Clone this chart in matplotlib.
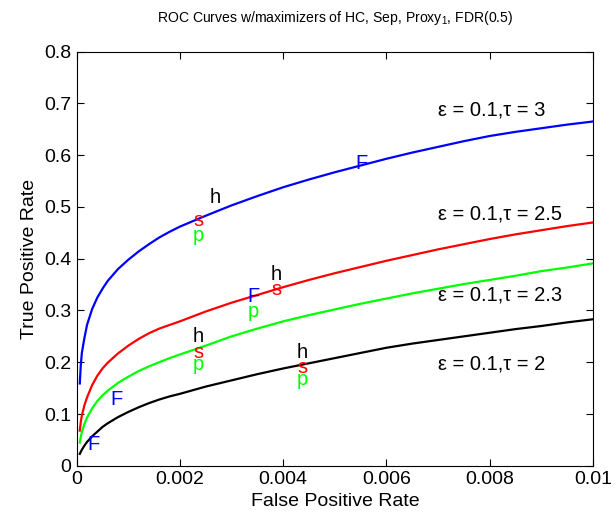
import matplotlib
matplotlib.use("Agg")
import matplotlib.pyplot as plt

plt.rcParams['font.family'] = ['Liberation Sans', 'DejaVu Sans']
plt.rcParams['mathtext.fontset'] = 'custom'
plt.rcParams['mathtext.rm'] = 'Liberation Sans'
plt.rcParams['mathtext.it'] = 'Liberation Sans:italic'

# ROC curves (FPR, TPR)
fpr_t3 = [0.00006, 0.00008, 0.0001, 0.00015, 0.0002, 0.0003, 0.0004, 0.0005, 0.0006, 0.0008,
          0.001, 0.0012, 0.0014, 0.0016, 0.0018, 0.002, 0.0025, 0.003, 0.0035, 0.004,
          0.0045, 0.005, 0.0055, 0.006, 0.0065, 0.007, 0.0075, 0.008, 0.0085, 0.009, 0.0095, 0.01]
tpr_t3 = [0.159, 0.195, 0.218, 0.247, 0.272, 0.303, 0.325, 0.342, 0.357, 0.380,
          0.398, 0.414, 0.428, 0.441, 0.452, 0.462, 0.483, 0.503, 0.521, 0.538,
          0.553, 0.567, 0.580, 0.593, 0.605, 0.616, 0.627, 0.637, 0.645, 0.652, 0.659, 0.665]

fpr_t25 = [0.00006, 0.00008, 0.0001, 0.00015, 0.0002, 0.0003, 0.0004, 0.0005, 0.0006, 0.0008,
           0.001, 0.0012, 0.0014, 0.0016, 0.0018, 0.002, 0.0025, 0.003, 0.0035, 0.004,
           0.0045, 0.005, 0.0055, 0.006, 0.0065, 0.007, 0.0075, 0.008, 0.0085, 0.009, 0.0095, 0.01]
tpr_t25 = [0.068, 0.085, 0.097, 0.117, 0.132, 0.156, 0.174, 0.188, 0.199, 0.217,
           0.232, 0.245, 0.256, 0.265, 0.272, 0.279, 0.298, 0.315, 0.330, 0.345,
           0.359, 0.372, 0.384, 0.396, 0.407, 0.418, 0.428, 0.438, 0.447, 0.455, 0.463, 0.47]

fpr_t23 = [0.00006, 0.00008, 0.0001, 0.00015, 0.0002, 0.0003, 0.0004, 0.0005, 0.0006, 0.0008,
           0.001, 0.0012, 0.0014, 0.0016, 0.0018, 0.002, 0.0025, 0.003, 0.0035, 0.004,
           0.0045, 0.005, 0.0055, 0.006, 0.0065, 0.007, 0.0075, 0.008, 0.0085, 0.009, 0.0095, 0.01]
tpr_t23 = [0.045, 0.056, 0.065, 0.081, 0.093, 0.111, 0.125, 0.136, 0.145, 0.160,
           0.172, 0.183, 0.192, 0.200, 0.208, 0.215, 0.232, 0.250, 0.265, 0.279,
           0.291, 0.302, 0.313, 0.323, 0.333, 0.342, 0.351, 0.359, 0.367, 0.376, 0.383, 0.391]

fpr_t2 = [0.00006, 0.0001, 0.00015, 0.0002, 0.0003, 0.0004, 0.0005, 0.0006, 0.0008,
          0.001, 0.0012, 0.0014, 0.0016, 0.0018, 0.002, 0.0025, 0.003, 0.0035, 0.004,
          0.0045, 0.005, 0.0055, 0.006, 0.0065, 0.007, 0.0075, 0.008, 0.0085, 0.009, 0.0095, 0.01]
tpr_t2 = [0.023, 0.031, 0.039, 0.046, 0.057, 0.066, 0.075, 0.082, 0.094,
          0.104, 0.113, 0.121, 0.128, 0.134, 0.139, 0.153, 0.165, 0.177, 0.188,
          0.198, 0.208, 0.218, 0.228, 0.236, 0.243, 0.250, 0.257, 0.264, 0.270, 0.277, 0.283]

curve_labels = ['\u03b5 = 0.1,\u03c4 = 3', '\u03b5 = 0.1,\u03c4 = 2.5',
                '\u03b5 = 0.1,\u03c4 = 2.3', '\u03b5 = 0.1,\u03c4 = 2']
label_x = [0.0070, 0.0070, 0.0070, 0.0070]
label_y = [0.6875, 0.4856, 0.329, 0.1957]

# maximizer markers (letter, fpr, tpr-baseline)
mark_letters = ['h', 's', 'p', 'F',
                'h', 's', 'p', 'F',
                'h', 's', 'p', 'F',
                'h', 's', 'p', 'F']
mark_x = [0.00268, 0.00235, 0.00235, 0.00552,
          0.003872, 0.003872, 0.00342, 0.003433,
          0.002354, 0.002354, 0.002354, 0.000774,
          0.004375, 0.004375, 0.004375, 0.000335]
mark_y = [0.507, 0.4634, 0.435, 0.573,
          0.359, 0.330, 0.288, 0.317,
          0.2398, 0.2077, 0.185, 0.1175,
          0.2077, 0.1787, 0.156, 0.0305]
letter_colors = {'h': 'black', 's': 'red', 'p': '#00ff00', 'F': 'blue'}

xticks = [0, 0.002, 0.004, 0.006, 0.008, 0.01]
xticklabels = ['0', '0.002', '0.004', '0.006', '0.008', '0.01']
yticks = [0, 0.1, 0.2, 0.3, 0.4, 0.5, 0.6, 0.7, 0.8]
yticklabels = ['0', '0.1', '0.2', '0.3', '0.4', '0.5', '0.6', '0.7', '0.8']

fig = plt.figure(figsize=(6.15, 5.14), dpi=100)
ax = fig.add_axes([0.1247, 0.0938, 0.9642 - 0.1247, 0.8996 - 0.0938])

lw = 1.6
ax.plot(fpr_t3, tpr_t3, color='blue', lw=lw)
ax.plot(fpr_t25, tpr_t25, color='red', lw=lw)
ax.plot(fpr_t23, tpr_t23, color='#00ff00', lw=lw)
ax.plot(fpr_t2, tpr_t2, color='black', lw=lw)

for txt, x, y in zip(curve_labels, label_x, label_y):
    ax.text(x, y, txt, fontsize=14.5, ha='left', va='center')

for L, x, y in zip(mark_letters, mark_x, mark_y):
    ax.text(x, y, L, fontsize=14.5, color=letter_colors[L], ha='center', va='baseline')

ax.set_xlim(0, 0.01)
ax.set_ylim(0, 0.8)
ax.set_xticks(xticks)
ax.set_xticklabels(xticklabels)
ax.set_yticks(yticks)
ax.set_yticklabels(yticklabels)
ax.tick_params(direction='in', top=True, right=True, length=5, width=0.8,
               labelsize=14, pad=4)
for s in ax.spines.values():
    s.set_linewidth(0.8)

ax.set_xlabel('False Positive Rate', fontsize=14, labelpad=3)
ax.set_ylabel('True Positive Rate', fontsize=14, labelpad=4)
ax.set_title('ROC Curves w/maximizers of HC, Sep, Proxy$_1$, FDR(0.5)', fontsize=10.1, pad=21)

fig.savefig('out.png', dpi=100)
